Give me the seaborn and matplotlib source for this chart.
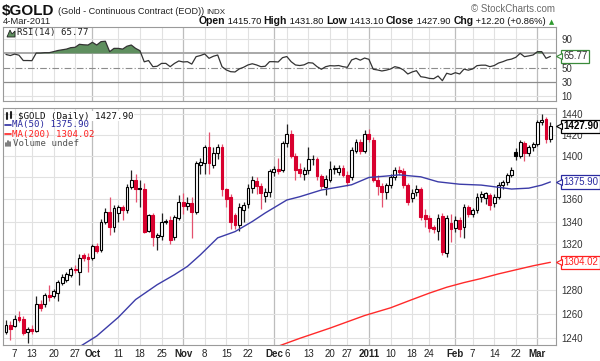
import numpy as np
import pandas as pd
import matplotlib
matplotlib.use("Agg")
import matplotlib.pyplot as plt
import seaborn as sns
from matplotlib.ticker import FixedLocator, NullLocator, FuncFormatter

sns.set_theme(style="white")
plt.rcParams['font.family'] = ['Liberation Sans', 'DejaVu Sans']

# ---------------- data ----------------
holidays = ["2010-09-06", "2010-11-25", "2010-12-24", "2011-01-17", "2011-02-21"]
dates = pd.bdate_range("2010-09-02", "2011-03-04", freq="C", holidays=holidays)

opens = [1245, 1251, 1250, 1257, 1256, 1245, 1247.5, 1246, 1268, 1268,
         1276, 1275, 1278, 1286, 1289, 1293, 1298, 1296, 1310, 1309,
         1308, 1318, 1315, 1340, 1349, 1335, 1348, 1353, 1350, 1371,
         1378, 1370, 1369, 1332, 1346, 1326, 1327, 1340, 1341, 1326,
         1343, 1358, 1354, 1357, 1349, 1392, 1393, 1408, 1392, 1403,
         1408, 1369, 1362, 1346, 1337, 1350, 1356, 1370, 1377, 1372,
         1363, 1367, 1385, 1388, 1387, 1412, 1421, 1400, 1388, 1383,
         1387, 1397, 1397, 1381, 1371, 1378, 1389, 1385, 1389, 1382,
         1380, 1405, 1413, 1405, 1421, 1415, 1378, 1372, 1367, 1373,
         1380, 1387, 1386, 1373, 1361, 1367, 1369, 1346, 1343, 1335,
         1332, 1345, 1312, 1339, 1334, 1341, 1335, 1353, 1347, 1350,
         1362, 1361, 1364, 1357, 1362, 1373, 1376, 1382, 1404, 1400,
         1412, 1403, 1408, 1411, 1432, 1435, 1415.7]
highs = [1255, 1254, 1259, 1262, 1258, 1249, 1251, 1275, 1272, 1278,
         1284, 1281, 1289, 1294, 1296, 1300, 1302, 1311, 1312, 1312,
         1320, 1321, 1342, 1352, 1362, 1355, 1355, 1355, 1374, 1387,
         1383, 1378, 1375, 1347, 1348, 1330, 1348, 1342, 1345, 1346,
         1364, 1366, 1362, 1362, 1395, 1398, 1410, 1423, 1408, 1411,
         1411, 1370, 1365, 1348, 1357, 1358, 1374, 1381, 1380, 1375,
         1370, 1388, 1391, 1398, 1414, 1430, 1424, 1403, 1393, 1390,
         1408, 1401, 1399, 1383, 1382, 1395, 1392, 1392, 1392, 1386,
         1408, 1416, 1416, 1424, 1425, 1418, 1382, 1375, 1375, 1383,
         1390, 1391, 1389, 1375, 1369, 1373, 1371, 1351, 1346, 1337,
         1347, 1348, 1346, 1347, 1345, 1344, 1356, 1355, 1352, 1366,
         1368, 1367, 1366, 1365, 1376, 1378, 1384, 1390, 1407, 1415,
         1414, 1410, 1413, 1434, 1440, 1437, 1431.8]
lows = [1243, 1238, 1249, 1253, 1242, 1236, 1243, 1245, 1262, 1266,
        1271, 1273, 1271, 1284, 1287, 1291, 1295, 1284, 1305, 1296,
        1306, 1312, 1313, 1338, 1328, 1331, 1340, 1341, 1348, 1369,
        1358, 1353, 1330, 1331, 1318, 1315, 1324, 1338, 1320, 1324,
        1341, 1347, 1350, 1325, 1347, 1383, 1383, 1383, 1389, 1397,
        1363, 1353, 1333, 1333, 1332, 1340, 1352, 1366, 1365, 1351,
        1358, 1362, 1381, 1383, 1385, 1408, 1398, 1378, 1380, 1378,
        1383, 1392, 1378, 1369, 1364, 1376, 1383, 1382, 1380, 1372,
        1378, 1403, 1402, 1403, 1413, 1376, 1364, 1353, 1360, 1370,
        1378, 1382, 1370, 1355, 1358, 1363, 1341, 1335, 1331, 1330,
        1324, 1310, 1309, 1322, 1331, 1326, 1325, 1344, 1344, 1348,
        1358, 1356, 1350, 1353, 1360, 1369, 1373, 1380, 1396, 1398,
        1395, 1400, 1405, 1409, 1429, 1412, 1413.1]
closes = [1251, 1247, 1256, 1255, 1244, 1247, 1246, 1268, 1265, 1276,
          1274, 1279, 1287, 1291, 1294, 1298, 1297, 1308, 1307.5, 1307,
          1318, 1314, 1340, 1349, 1335, 1352, 1353, 1350, 1371, 1378,
          1369, 1369, 1331, 1346, 1326, 1328, 1340, 1340, 1324, 1344,
          1358, 1354, 1357, 1349, 1393, 1394, 1408, 1393, 1403, 1408,
          1369, 1360, 1340, 1337, 1353, 1355, 1370, 1378, 1372, 1366,
          1367, 1386, 1388, 1386, 1412, 1421, 1400, 1387, 1384, 1387,
          1397, 1397, 1381, 1372, 1379, 1388, 1388, 1389, 1382, 1376,
          1406, 1413, 1405, 1421, 1416, 1378, 1372, 1367, 1373, 1380,
          1387, 1385, 1373, 1358, 1366, 1369, 1344, 1342, 1334, 1333,
          1343, 1313, 1343, 1333, 1341, 1333, 1353, 1347, 1350, 1362,
          1365, 1366, 1355, 1362, 1373, 1376, 1382, 1387, 1400, 1413,
          1403, 1408, 1411, 1432, 1434, 1415.7, 1427.9]
rsi = [68.5, 67, 69, 67.5, 60, 60, 59.8, 70.5, 70.5, 71,
       71, 72.4, 74, 75, 76, 78, 78.5, 82.7, 82, 81.7,
       85.5, 81.7, 86.4, 87, 72.4, 77, 77, 76, 80, 81.7,
       77, 73.8, 58.2, 60, 51.4, 52, 56, 56, 51.4, 56,
       59.4, 58, 58.4, 55, 65.4, 67, 69.2, 63.1, 66, 67.7,
       51.4, 46.8, 44.4, 44, 48.3, 50.6, 53.8, 55.5, 53.8, 51.4,
       52, 58.4, 58.4, 58, 64, 65.6, 58.4, 53.8, 53, 54,
       57, 56.5, 51.4, 47.8, 51.4, 52.8, 52.5, 53, 51.4, 50.5,
       60.8, 63.1, 60.5, 63.5, 61.7, 47.8, 46.8, 45.4, 46.5, 48.2,
       51.4, 50, 46.8, 41.2, 44, 45.8, 37.4, 36.5, 35, 34.6,
       38.4, 31.8, 42.2, 40.5, 43, 41.2, 48, 46.5, 48.2, 52.8,
       53.5, 53.5, 51.4, 53, 56.5, 58.4, 60.8, 62, 64.5, 70.1,
       65.4, 66.5, 67.8, 72.4, 72.4, 63.1, 65.77]

ma50_dates = ["2010-09-28", "2010-10-04", "2010-10-11", "2010-10-15", "2010-10-22",
              "2010-10-28", "2010-11-02", "2010-11-05", "2010-11-11", "2010-11-17",
              "2010-11-23", "2010-11-29", "2010-12-06", "2010-12-09", "2010-12-16",
              "2010-12-22", "2010-12-28", "2011-01-03", "2011-01-07", "2011-01-12",
              "2011-01-20", "2011-01-26", "2011-02-02", "2011-02-09", "2011-02-15",
              "2011-02-18", "2011-02-25", "2011-03-02", "2011-03-04"]
ma50_vals = [1232.5, 1241.4, 1257, 1272, 1284.7, 1293.3, 1300.5, 1310.6, 1325.5, 1331,
             1340, 1347.7, 1359.4, 1362.4, 1368.5, 1371.2, 1373.3, 1380, 1381.3, 1382.4,
             1380.6, 1376, 1373.8, 1373, 1371, 1369.4, 1370.2, 1373, 1375.9]
ma200_dates = ["2010-12-02", "2010-12-09", "2010-12-20", "2010-12-31", "2011-01-10",
               "2011-01-18", "2011-01-24", "2011-01-28", "2011-02-03", "2011-02-09",
               "2011-02-15", "2011-02-22", "2011-02-28", "2011-03-04"]
ma200_vals = [1233, 1239.5, 1248, 1258.5, 1265, 1272, 1277.5, 1282.5, 1286.5, 1290,
              1294, 1297.5, 1301, 1304.02]

tick_dates = ["2010-09-07", "2010-09-13", "2010-09-20", "2010-09-27", "2010-10-01",
              "2010-10-11", "2010-10-18", "2010-10-25", "2010-11-01", "2010-11-08",
              "2010-11-15", "2010-11-22", "2010-12-01", "2010-12-06", "2010-12-13",
              "2010-12-20", "2010-12-27", "2011-01-03", "2011-01-10", "2011-01-18",
              "2011-01-24", "2011-02-01", "2011-02-07", "2011-02-14", "2011-02-22",
              "2011-03-01"]
tick_labels = ["7", "13", "20", "27", "Oct", "11", "18", "25", "Nov", "8", "15", "22",
               "Dec", "6", "13", "20", "27", "2011", "10", "18", "24", "Feb", "7", "14",
               "22", "Mar"]
month_labels = {"Oct", "Nov", "Dec", "2011", "Feb", "Mar"}

price_ticks = [1240, 1260, 1280, 1300, 1320, 1340, 1360, 1380, 1400, 1420, 1440]
price_hidden = {1380, 1300}          # covered by the value tags
rsi_ticks = [10, 30, 50, 70, 90]
rsi_hidden = {70}

# ---------------- figure ----------------
W, H = 600, 361
fig = plt.figure(figsize=(6.0, 3.61), dpi=100)
fig.patch.set_facecolor("white")


def fx(x):
    return x / W


def fy(y):
    return 1 - y / H


L, R = 3, 556
ax_r = fig.add_axes([fx(L), fy(101), (R - L) / W, (101 - 27) / H])
ax_m = fig.add_axes([fx(L), fy(345), (R - L) / W, (345 - 108) / H])

pos = np.arange(len(dates))
o = np.array(opens); h = np.array(highs); lo = np.array(lows); c = np.array(closes)
prev = np.concatenate([[o[0]], c[:-1]])
is_red = c < prev
col = np.where(is_red, "#d8002e", "#000000")
wick_col = np.where(is_red, "#e4506e", "#222222")
hollow = c > o

tpos = dates.get_indexer(pd.to_datetime(tick_dates))
xlim = (-0.69, 127.3)

for ax in (ax_r, ax_m):
    ax.set_facecolor("white")
    ax.set_xlim(*xlim)
    for t, lab in zip(tpos, tick_labels):
        if lab in month_labels:
            ax.axvline(t, color="#bdbdbd", lw=0.9, zorder=0)
        else:
            ax.axvline(t, color="#e1e1e1", lw=0.8, zorder=0)
    for s in ax.spines.values():
        s.set_color("#9a9a9a")
        s.set_linewidth(0.8)
    ax.yaxis.tick_right()
    ax.tick_params(axis="y", length=0, pad=4, labelsize=7, labelcolor="#333333")

# ---- main price panel ----
ax_m.set_yscale("log")
ax_m.set_ylim(1234.0, 1445.5)
ax_m.yaxis.set_major_locator(FixedLocator(price_ticks))
ax_m.yaxis.set_minor_locator(NullLocator())
ax_m.yaxis.set_major_formatter(
    FuncFormatter(lambda v, p: "" if round(v) in price_hidden else f"{v:.0f}"))
for v in price_ticks:
    ax_m.axhline(v, color="#e1e1e1", lw=0.8, zorder=0)

ax_m.vlines(pos, lo, h, colors=wick_col, lw=0.9, zorder=2)
body_bottom = np.minimum(o, c)
body_h = np.maximum(np.abs(c - o), 0.4)
face = np.where(hollow, "white", col)
ax_m.bar(pos, body_h, bottom=body_bottom, width=0.66, color=face,
         edgecolor=col, linewidth=0.8, zorder=3)

ma50_pos = dates.get_indexer(pd.to_datetime(ma50_dates))
ma200_pos = dates.get_indexer(pd.to_datetime(ma200_dates))
sns.lineplot(x=ma50_pos, y=ma50_vals, ax=ax_m, color="#3c3ca8", lw=1.0,
             estimator=None, sort=False, legend=False, zorder=4)
sns.lineplot(x=ma200_pos, y=ma200_vals, ax=ax_m, color="#ff2a2a", lw=1.0,
             estimator=None, sort=False, legend=False, zorder=4)

ax_m.set_xticks(tpos)
ax_m.set_xticklabels(tick_labels)
ax_m.tick_params(axis="x", length=0, pad=3, labelsize=7, labelcolor="#222222")
for lab in ax_m.get_xticklabels():
    if lab.get_text() in month_labels:
        lab.set_fontweight("bold")
ax_m.set_xlabel("")
ax_m.set_ylabel("")

# ---- RSI panel ----
ax_r.set_ylim(3.4, 106.9)
ax_r.yaxis.set_major_locator(FixedLocator(rsi_ticks))
ax_r.yaxis.set_major_formatter(
    FuncFormatter(lambda v, p: "" if round(v) in rsi_hidden else f"{v:.0f}"))
ax_r.set_xticks([])
for v in (10, 90):
    ax_r.axhline(v, color="#e1e1e1", lw=0.8, zorder=0)
ax_r.axhline(70, color="#a8a8a8", lw=1.4, zorder=1)
ax_r.axhline(30, color="#8c8c8c", lw=0.9, zorder=1)
ax_r.axhline(50, color="#8c8c8c", lw=0.8, ls=(0, (6, 2, 1, 2)), zorder=1)
r_arr = np.array(rsi)
ax_r.fill_between(pos, r_arr, 70, where=r_arr >= 70, interpolate=True,
                  color="#5f8f5f", lw=0, zorder=2)
sns.lineplot(x=pos, y=r_arr, ax=ax_r, color="#333333", lw=0.9,
             estimator=None, sort=False, legend=False, zorder=3)
ax_r.set_xlabel("")
ax_r.set_ylabel("")


# ---- value tags on the right ----
def tag(ax, y, s, ec, tc, bold=False):
    ax.text(1.013, y, s, transform=ax.get_yaxis_transform(), va="center", ha="left",
            fontsize=7, color=tc, fontweight="bold" if bold else "normal",
            bbox=dict(boxstyle="square,pad=0.18", fc="white", ec=ec, lw=0.9),
            zorder=10, clip_on=False)
    ax.plot([1.006], [y], transform=ax.get_yaxis_transform(), marker="<",
            ms=4, mfc="white", mec=ec, mew=0.8, clip_on=False, zorder=11)


tag(ax_m, closes[-1], f"{closes[-1]:.2f}", "#000000", "#000000", bold=True)
tag(ax_m, ma50_vals[-1], f"{ma50_vals[-1]:.2f}", "#2a2aa0", "#2a2aa0")
tag(ax_m, ma200_vals[-1], f"{ma200_vals[-1]:.2f}", "#ff2020", "#ff2020")
tag(ax_r, rsi[-1], f"{rsi[-1]:.2f}", "#3a8a3a", "#333333")

# ---- legends inside panels ----
mono = ["DejaVu Sans Mono"]
fig.text(fx(17), fy(33), f"RSI(14) {rsi[-1]:.2f}", fontsize=6.6, family=mono,
         va="center", ha="left", color="#222222")
fig.text(fx(18), fy(116), f"$GOLD (Daily) {closes[-1]:.2f}", fontsize=6.6, family=mono,
         va="center", ha="left", color="#111111",
         bbox=dict(fc="white", ec="none", pad=0.5))
fig.text(fx(12), fy(125), f"MA(50) {ma50_vals[-1]:.2f}", fontsize=6.6, family=mono,
         va="center", ha="left", color="#2a2aa0")
fig.text(fx(12), fy(134), f"MA(200) {ma200_vals[-1]:.2f}", fontsize=6.6, family=mono,
         va="center", ha="left", color="#ff2020")
fig.text(fx(13), fy(143), "Volume undef", fontsize=6.6, family=mono,
         va="center", ha="left", color="#555555")
fig.add_artist(plt.Line2D([fx(5), fx(11)], [fy(125), fy(125)], color="#2a2aa0", lw=1.2))
fig.add_artist(plt.Line2D([fx(5), fx(11)], [fy(134), fy(134)], color="#ff2020", lw=1.2))
for k, hh in enumerate([3, 5, 4]):
    fig.add_artist(plt.Line2D([fx(6 + 2 * k), fx(6 + 2 * k)], [fy(146), fy(146 - hh)],
                              color="#666666", lw=1.2))
for k, (a, b) in enumerate([(113, 119), (112, 118)]):
    fig.add_artist(plt.Line2D([fx(7 + 4 * k), fx(7 + 4 * k)], [fy(b), fy(a)],
                              color="#222222", lw=1.5))
fig.add_artist(plt.Polygon([[fx(7), fy(37)], [fx(10), fy(30)], [fx(12), fy(34)],
                            [fx(15), fy(31)], [fx(15), fy(37)]], closed=True,
                           fc="#5f8f5f", ec="#222222", lw=0.6))

# ---- header ----
fig.canvas.draw()
rend = fig.canvas.get_renderer()


def seg(x, y, s, **kw):
    t = fig.text(fx(x), fy(y), s, va="baseline", ha="left", **kw)
    return x + t.get_window_extent(rend).width, t


x1, _ = seg(2, 15, "$GOLD", fontsize=11, fontweight="bold", color="#111111")
x1, _ = seg(x1 + 3, 14, "(Gold - Continuous Contract (EOD))", fontsize=6.6, color="#222222")
seg(x1 + 3, 14, "INDX", fontsize=5.8, color="#222222")
fig.text(fx(3), fy(24), "4-Mar-2011", fontsize=6.8, va="baseline", ha="left", color="#222222")
fig.text(fx(555), fy(12), "\u00a9 StockCharts.com", fontsize=7, va="baseline", ha="right",
         color="#6a6a6a")

parts = [("Open", True), (" 1415.70 ", False), ("High", True), (" 1431.80 ", False),
         ("Low", True), (" 1413.10 ", False), ("Close", True), (" 1427.90 ", False),
         ("Chg", True), (" +12.20 (+0.86%) ", False)]


def header(scale):
    items = []
    xx = 0
    for s, b in parts:
        xx, t = seg(xx, 24, s, fontsize=(7.6 if b else 6.9) * scale,
                    fontweight="bold" if b else "normal", color="#111111")
        items.append(t)
    xx, tri = seg(xx, 24, "\u25b2", fontsize=5.0 * scale, color="#2e9a2e",
                  family=["DejaVu Sans"])
    items.append(tri)
    return xx, items


total, items = header(1.0)
target = 554 - 198
if abs(total - target) > 2:
    for t in items:
        t.remove()
    total, items = header(target / total)
shift = 554 - total
for t in items:
    x0, y0 = t.get_position()
    t.set_position((x0 + shift / W, y0))

fig.savefig("out.png", dpi=100, facecolor="white")
